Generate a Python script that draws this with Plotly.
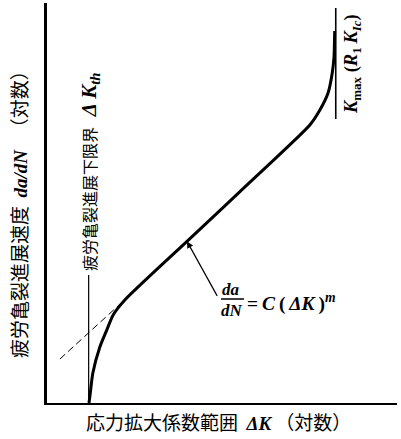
import plotly.graph_objects as go

# ---- data (log-scale units, arbitrary) ----
log_dk = [1.20, 1.23, 1.31, 1.51, 1.71, 1.89, 2.23, 4.00, 5.80, 7.51, 7.80, 8.03, 8.15, 8.20, 8.22]
log_dadn = [0.00, 0.20, 0.75, 1.40, 1.83, 2.20, 2.58, 4.04, 5.52, 6.95, 7.33, 7.75, 8.25, 8.65, 9.30]

paris_dk = [0.37, 2.09]
paris_dadn = [1.10, 2.475]

dk_th = 1.19
dk_th_span = [0.0, 3.2]
k_c = 8.25
k_c_span = [7.1, 9.875]

arrow_pt = (4.00, 4.04)

# ---- layout geometry ----
W, H = 401, 439
L, R, T, B = 47, 4, 3, 36
PW, PH = W - L - R, H - T - B


def px(p):
    return (p - L) / PW


def py(p):
    return (T + PH - p) / PH


SERIF = "Liberation Serif, Noto Sans CJK JP"
CJK = "Noto Sans CJK JP, Liberation Serif"
TS = "\u2009"
NB = "\u00a0"


def text_ann(xp, yp, text, family, size, angle=0, xanchor="center"):
    return dict(x=px(xp), y=py(yp), xref="paper", yref="paper", text=text,
                textangle=angle, xanchor=xanchor, yanchor="middle",
                showarrow=False, font=dict(family=family, size=size, color="black"))


fig = go.Figure()
fig.add_trace(go.Scatter(x=paris_dk, y=paris_dadn, mode="lines",
                         line=dict(color="black", width=1, dash="7px,4px"),
                         hoverinfo="skip"))
fig.add_trace(go.Scatter(x=[dk_th, dk_th], y=dk_th_span, mode="lines",
                         line=dict(color="black", width=1.2), hoverinfo="skip"))
fig.add_trace(go.Scatter(x=[k_c, k_c], y=k_c_span, mode="lines",
                         line=dict(color="black", width=1.6), hoverinfo="skip"))
fig.add_trace(go.Scatter(x=log_dk, y=log_dadn, mode="lines",
                         line=dict(color="black", width=3, shape="spline", smoothing=0.6),
                         hoverinfo="skip"))

SER = "<span style='font-family:Liberation Serif'>"
SER_BIG = "<span style='font-family:Liberation Serif;font-size:21px'>"
ann = []
ann.append(dict(x=arrow_pt[0], y=arrow_pt[1], xref="x", yref="y", text="",
                showarrow=True, arrowhead=2, arrowsize=1.1, arrowwidth=1.2,
                arrowcolor="black", ax=31, ay=56))
ann.append(text_ann(231, 289, "<b><i>da</i></b>", SERIF, 17))
ann.append(text_ann(232, 310, "<b><i>dN</i></b>", SERIF, 17))
ann.append(text_ann(245, 302,
                    "<b>=</b>" + TS + "<b><i>C</i></b>" + TS + "<b>(</b>" + TS + "<b><i>ΔK</i></b>" + TS
                    + "<b>)</b><sup><b><i>m</i></b></sup>",
                    SERIF, 19.5, xanchor="left"))
ann.append(text_ann(353, 64,
                    "<b><i>K</i></b><sub><b>max</b></sub>" + NB + "<b>(</b><b><i>R</i></b><sub><b>1</b></sub>"
                    + TS + "<b><i>K</i></b><sub><b><i>Ic</i></b></sub><b>)</b>",
                    SERIF, 18.5, angle=-90))
ann.append(text_ann(90, 172,
                    "疲労亀裂進展下限界" + NB + NB + NB + SER_BIG + "<b><i>Δ" + TS + "K</i></b><sub><b><i>th</i></b></sub></span>",
                    CJK, 16, angle=-90))
ann.append(text_ann(18, 210,
                    "疲労亀裂進展速度" + NB + NB + SER + "<b><i>da/dN</i></b></span>" + NB + NB + NB + "（対数）",
                    CJK, 19, angle=-90))
ann.append(text_ann(218, 421,
                    "応力拡大係数範囲" + NB + NB + SER + "<b><i>ΔK</i></b></span>" + NB + "（対数）",
                    CJK, 19))

fig.update_layout(
    width=W, height=H,
    margin=dict(l=L, r=R, t=T, b=B, autoexpand=False),
    paper_bgcolor="white", plot_bgcolor="white",
    showlegend=False,
    annotations=ann,
    shapes=[dict(type="line", xref="paper", yref="paper",
                 x0=px(221), x1=px(244), y0=py(299), y1=py(299),
                 line=dict(color="black", width=1.5))],
    xaxis=dict(range=[0, 10], showgrid=False, zeroline=False, showticklabels=False,
               ticks="", showline=True, linecolor="black", linewidth=2),
    yaxis=dict(range=[0, 10], showgrid=False, zeroline=False, showticklabels=False,
               ticks="", showline=True, linecolor="black", linewidth=2.5),
)

fig.write_html("out.html", config={"displayModeBar": False},
               post_script="document.body.style.margin='0px';document.body.style.overflow='hidden';")
